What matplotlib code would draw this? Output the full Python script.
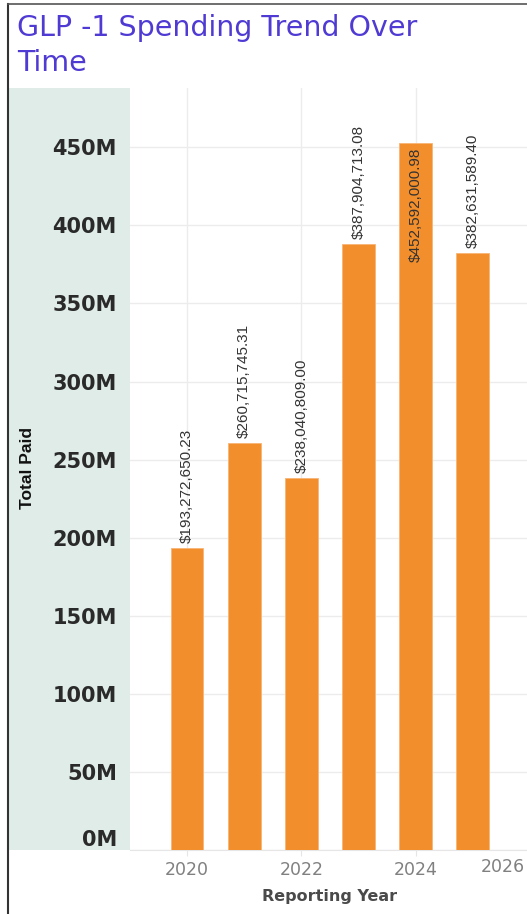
import matplotlib
matplotlib.use("Agg")
import matplotlib.pyplot as plt
from matplotlib.patches import Rectangle
from matplotlib.lines import Line2D
import matplotlib.transforms as mtrans

years = [2020, 2021, 2022, 2023, 2024, 2025]
total_paid = [193272650.23, 260715745.31, 238040809.00, 387904713.08, 452592000.98, 382631589.40]
y_ticks = [0, 50e6, 100e6, 150e6, 200e6, 250e6, 300e6, 350e6, 400e6, 450e6]
y_tick_labels = ["0M", "50M", "100M", "150M", "200M", "250M", "300M", "350M", "400M", "450M"]
x_ticks = [2020, 2022, 2024]
x_tick_labels = ["2020", "2022", "2024"]

W, H = 527, 914
fig = plt.figure(figsize=(W / 100, H / 100), dpi=100)
fig.patch.set_facecolor("white")

def fx(px):
    return px / W

def fy(py):
    return 1 - py / H

# left teal panel
fig.patches.append(Rectangle((fx(9), fy(850)), fx(130) - fx(9), fy(88) - fy(850),
                             transform=fig.transFigure, facecolor="#dfece8", edgecolor="none", zorder=-5))
# borders
fig.lines.append(Line2D([fx(8), fx(8)], [fy(4), 0], transform=fig.transFigure, color="#333333", lw=1.5, zorder=-4))
fig.lines.append(Line2D([fx(8), 1], [fy(4), fy(4)], transform=fig.transFigure, color="#555555", lw=1.2, zorder=-4))

ax = fig.add_axes([fx(130), fy(850), 1 - fx(130), fy(88) - fy(850)], zorder=2)
ax.set_facecolor("none")
ax.bar(years, total_paid, width=0.57, color="#f28e2b", edgecolor="#f7b577", linewidth=0.6, zorder=3)
ax.set_xlim(2019.0, 2025.95)
ax.set_ylim(0, 488e6)

ax.set_yticks(y_ticks)
ax.set_yticklabels(y_tick_labels)
ax.set_xticks(x_ticks)
ax.set_xticklabels(x_tick_labels)
ax.grid(True, color="#ececec", lw=1, zorder=0)
for s in ["top", "right", "left"]:
    ax.spines[s].set_visible(False)
ax.spines["bottom"].set_color("#e6e6e6")
ax.tick_params(axis="y", length=0, pad=9.5, labelsize=15, labelcolor="#2a2a2a")
ax.tick_params(axis="x", length=4, color="#e6e6e6", pad=4, labelsize=12.5, labelcolor="#808080")
for lab in ax.get_yticklabels():
    lab.set_fontweight("bold")
# shift 0M label up
lab0 = ax.get_yticklabels()[0]
lab0.set_transform(lab0.get_transform() + mtrans.ScaledTranslation(0, 12 / 100, fig.dpi_scale_trans))

ax.text(1.0, 0.0, "2026", transform=ax.transAxes + mtrans.ScaledTranslation(-2 / 100, -8 / 100, fig.dpi_scale_trans),
        ha="right", va="top", fontsize=12.5, color="#808080", clip_on=False)

# bar labels
label_font = dict(family="Liberation Sans", fontsize=11, color="#333333")
for x, v in zip(years, total_paid):
    txt = "${:,.2f}".format(v)
    if v > 440e6:
        ax.annotate(txt, (x, v), xytext=(0, -3), textcoords="offset points", rotation=90,
                    ha="center", va="top", zorder=4, **label_font)
    else:
        ax.annotate(txt, (x, v), xytext=(0, 3.5), textcoords="offset points", rotation=90,
                    ha="center", va="bottom", zorder=4, **label_font)

fig.text(fx(28), fy(468), "Total Paid", rotation=90, ha="center", va="center",
         fontsize=12.5, fontweight="bold", color="#111111", family="Liberation Sans")
fig.text(fx(330), fy(897), "Reporting Year", ha="center", va="center",
         fontsize=11.5, fontweight="bold", color="#4a4a4a")
fig.text(fx(17), fy(14), "GLP -1 Spending Trend Over\nTime", ha="left", va="top",
         fontsize=20.5, color="#4f3bd3", linespacing=1.3)

fig.savefig("out.png", dpi=100)
